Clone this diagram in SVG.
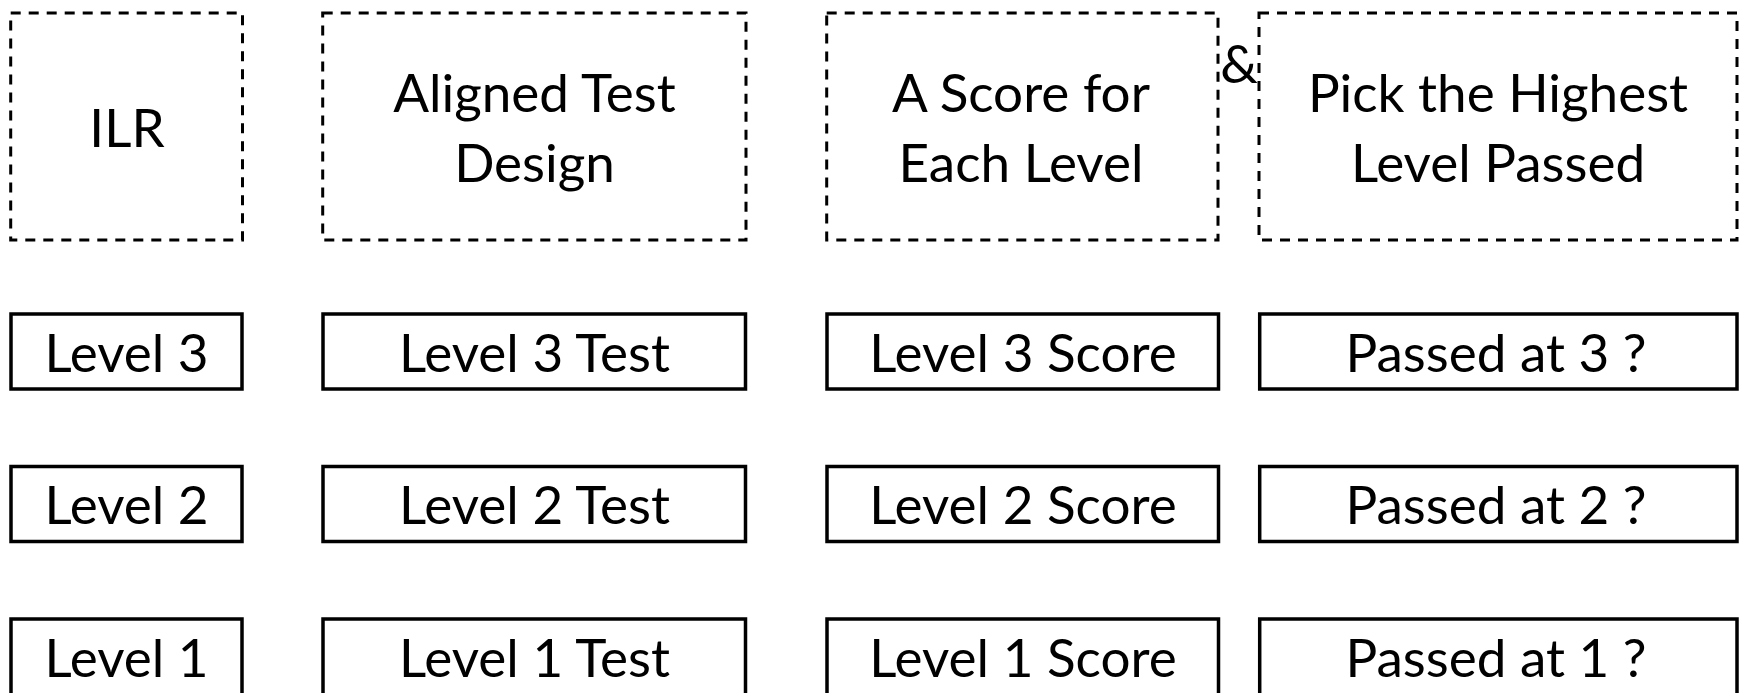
<svg xmlns="http://www.w3.org/2000/svg" width="1744" height="693" viewBox="0 0 1744 693">
<style>
  .bg { fill: #ffffff; }
  .dash { fill: none; stroke: #000; stroke-width: 3; stroke-dasharray: 10 8; }
  .solid { fill: none; stroke: #000; stroke-width: 3.5; }
  text { font-family: "Lato", "Open Sans", sans-serif; font-size: 53px; fill: #000; text-anchor: middle; }
</style>
<rect class="bg" x="0" y="0" width="1744" height="693"/>
<g id="hdr-ilr">
  <rect class="dash" x="10.7" y="13" width="231.8" height="227"/>
  <text x="127" y="147">ILR</text>
</g>
<g id="hdr-test">
  <rect class="dash" x="322.7" y="13" width="423.3" height="227"/>
  <text x="534.5" y="111.5">Aligned Test</text>
  <text x="534.5" y="182">Design</text>
</g>
<g id="hdr-score">
  <rect class="dash" x="826.7" y="13" width="391.3" height="227"/>
  <text x="1021" y="111.5">A Score for</text>
  <text x="1021" y="182">Each Level</text>
</g>
<g id="amp">
  <text x="1239" y="83">&amp;</text>
</g>
<g id="hdr-pick">
  <rect class="dash" x="1259" y="13" width="478" height="227"/>
  <text x="1498" y="111.5">Pick the Highest</text>
  <text x="1498" y="182">Level Passed</text>
</g>
<g id="ilr-3"><rect class="solid" x="11" y="314" width="231" height="75"/><text x="126.5" y="371.5">Level 3</text></g>
<g id="ilr-2"><rect class="solid" x="11" y="466.5" width="231" height="75"/><text x="126.5" y="523.5">Level 2</text></g>
<g id="ilr-1"><rect class="solid" x="11" y="619" width="231" height="76"/><text x="126.5" y="676.5">Level 1</text></g>
<g id="test-3"><rect class="solid" x="323" y="314" width="422.5" height="75"/><text x="534.5" y="371.5">Level 3 Test</text></g>
<g id="test-2"><rect class="solid" x="323" y="466.5" width="422.5" height="75"/><text x="534.5" y="523.5">Level 2 Test</text></g>
<g id="test-1"><rect class="solid" x="323" y="619" width="422.5" height="76"/><text x="534.5" y="676.5">Level 1 Test</text></g>
<g id="score-3"><rect class="solid" x="827" y="314" width="391.5" height="75"/><text x="1023" y="371.5">Level 3 Score</text></g>
<g id="score-2"><rect class="solid" x="827" y="466.5" width="391.5" height="75"/><text x="1023" y="523.5">Level 2 Score</text></g>
<g id="score-1"><rect class="solid" x="827" y="619" width="391.5" height="76"/><text x="1023" y="676.5">Level 1 Score</text></g>
<g id="pass-3"><rect class="solid" x="1259.7" y="314" width="477.3" height="75"/><text x="1496" y="371.5">Passed at 3 ?</text></g>
<g id="pass-2"><rect class="solid" x="1259.7" y="466.5" width="477.3" height="75"/><text x="1496" y="523.5">Passed at 2 ?</text></g>
<g id="pass-1"><rect class="solid" x="1259.7" y="619" width="477.3" height="76"/><text x="1496" y="676.5">Passed at 1 ?</text></g>
<g id="connectors"></g>
</svg>
